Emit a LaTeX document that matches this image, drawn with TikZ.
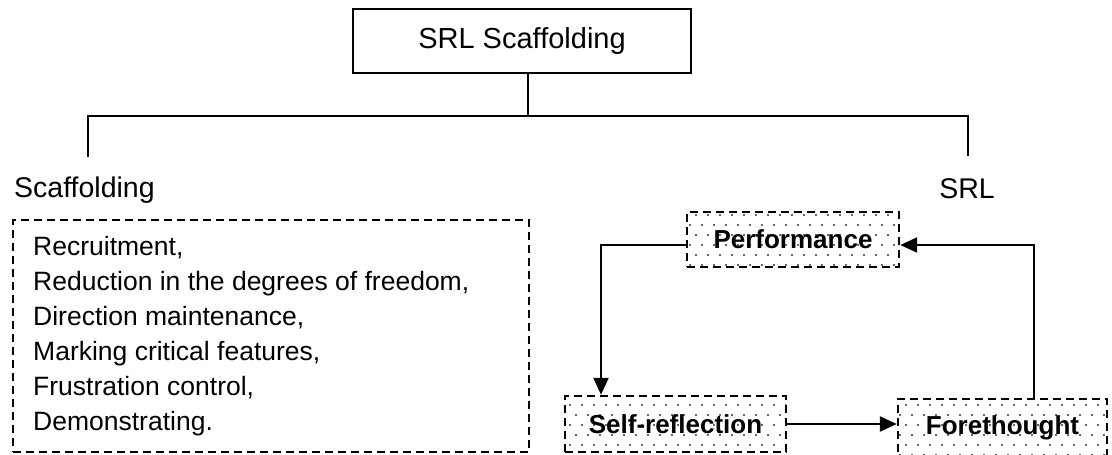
\documentclass[tikz,border=0pt]{standalone}
\usepackage{fontspec}
\setmainfont{Liberation Sans}
\usetikzlibrary{arrows.meta,patterns}

% sparse staggered dots for the SRL phase boxes
\pgfdeclarepatternformonly{phasedots}{\pgfqpoint{-2pt}{-2pt}}{\pgfqpoint{14pt}{22pt}}{\pgfqpoint{12pt}{20pt}}{%
  \pgfpathcircle{\pgfqpoint{0pt}{0pt}}{1.1pt}%
  \pgfpathcircle{\pgfqpoint{6pt}{10pt}}{1.1pt}%
  \pgfusepath{fill}}

\tikzset{
  treeline/.style={line width=2pt},
  titlebox/.style={draw, line width=1.8pt, minimum width=338pt, minimum height=64pt,
    inner sep=0pt, font=\fontsize{29}{34}\selectfont},
  branchlabel/.style={inner sep=0pt, font=\fontsize{28.5}{34}\selectfont},
  listbox/.style={draw, line width=1.8pt, dash pattern=on 8pt off 5pt,
    minimum width=516pt, minimum height=232pt, inner sep=0pt},
  listitem/.style={inner sep=0pt, anchor=base west, font=\fontsize{26.5}{32}\selectfont},
  phase/.style={draw, line width=2.4pt, dash pattern=on 8pt off 5pt,
    pattern=phasedots, pattern color=black!80, inner sep=0pt,
    font=\bfseries\fontsize{26}{30}\selectfont},
  flow/.style={line width=2.2pt, -{Triangle[length=17pt,width=15pt]}},
}

\begin{document}
\begin{tikzpicture}[x=1pt,y=-1pt]
\useasboundingbox (0,0) rectangle (1112,455);

% root of the tree
\node[titlebox] (root) at (522,41) {SRL Scaffolding};

% branching lines
\coordinate (hub) at (528,116);
\coordinate (lend) at (88,116);
\coordinate (rend) at (968,116);
\coordinate (ldrop) at (88,157);
\coordinate (rdrop) at (968,156);
\draw[treeline] (root.south -| hub) -- (hub);
\draw[treeline] (ldrop) -- (lend) -- (rend) -- (rdrop);

% branch labels
\node[branchlabel, anchor=base west] (scaf) at (14,197) {Scaffolding};
\node[branchlabel, anchor=base east] (srl) at (995,198) {SRL};

% scaffolding functions
\node[listbox] (funcs) at (271,336) {};
\node[listitem] (f1) at (33,255) {Recruitment,};
\node[listitem] (f2) at (33,290) {Reduction in the degrees of freedom,};
\node[listitem] (f3) at (33,325) {Direction maintenance,};
\node[listitem] (f4) at (33,360) {Marking critical features,};
\node[listitem] (f5) at (33,395) {Frustration control,};
\node[listitem] (f6) at (33,430) {Demonstrating.};

% SRL cycle
\node[phase, minimum width=212pt, minimum height=55pt] (perf) at (793,239.5) {Performance};
\node[phase, minimum width=221pt, minimum height=56pt] (self) at (675.5,424) {Self-reflection};
\node[phase, minimum width=209pt, minimum height=57pt] (fore) at (1002.5,427.5) {Forethought};

\draw[flow] ([yshift=-5.5pt]perf.west) -| ([xshift=-74.5pt]self.north);
\draw[flow] (self.east) -- (self.east -| fore.west);
\draw[flow] ([xshift=31.5pt]fore.north) |- ([yshift=-5.5pt]perf.east);
\end{tikzpicture}
\end{document}
